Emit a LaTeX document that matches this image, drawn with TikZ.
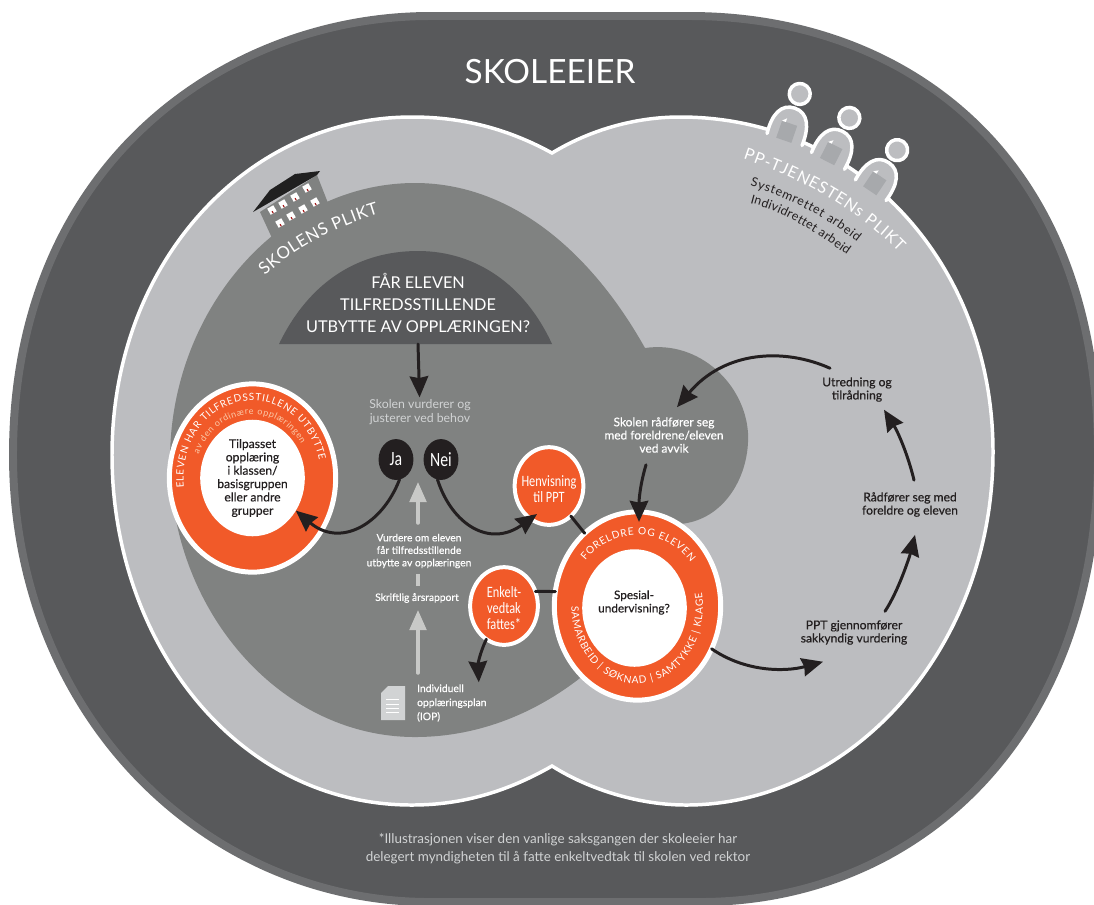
\documentclass[tikz,border=0pt]{standalone}
\usepackage{fontspec}
\setmainfont{Lato}
\newfontfamily\narrowfont[FakeStretch=0.78]{Carlito}
\newfontfamily\semifont[FakeBold=0.5]{Lato}
\usetikzlibrary{shapes.geometric,arrows.meta,decorations.text}
\definecolor{outerdark}{HTML}{58595B}
\definecolor{outerrim}{HTML}{6D6E70}
\definecolor{lobegray}{HTML}{BCBDC0}
\definecolor{staffgray}{HTML}{A7A9AC}
\definecolor{schoolgray}{HTML}{808281}
\definecolor{ringorange}{HTML}{F15A29}
\definecolor{inkblack}{HTML}{231F20}
\definecolor{palegray}{HTML}{D1D3D4}
\definecolor{arrowgray}{HTML}{C8C9C7}
\definecolor{paleorange}{HTML}{FBC9A8}
\def\pxu{0.5669pt}
\tikzset{
	ringnode/.style={ellipse,draw=white,fill=ringorange,line width=5*\pxu,inner sep=0pt,outer sep=0pt},
	smallring/.style={ringnode,line width=4*\pxu},
	corenode/.style={ellipse,fill=white,inner sep=0pt,outer sep=0pt,align=center,text=inkblack},
	choicenode/.style={ellipse,fill=inkblack,text=white,inner sep=0pt,outer sep=0pt,minimum width=35*\pxu,minimum height=41*\pxu,font=\narrowfont\fontsize{11.5}{13}\selectfont},
	ringlabel/.style={align=center,text=white,inner sep=0pt,font=\narrowfont\fontsize{9}{9}\selectfont},
	darklabel/.style={align=center,text=inkblack,inner sep=1pt,font=\semifont\fontsize{6.9}{7.5}\selectfont},
	lightlabel/.style={align=center,text=white,inner sep=1pt,font=\semifont\fontsize{5.85}{7.1}\selectfont},
	palelabel/.style={align=center,text=palegray,inner sep=1pt,font=\fontsize{7}{7.8}\selectfont},
	blackarrow/.style={draw=inkblack,line width=3*\pxu,-{Stealth[length=12pt,width=10.5pt,inset=1pt]}},
	grayarrow/.style={draw=arrowgray,line width=3.5*\pxu,-{Triangle[length=11.5pt,width=9.5pt]}},
	bentext/.style n args={2}{decorate,decoration={text along path,text format delimiters={<}{>},text align={fit to path},text={<#1>#2}}}
}
\begin{document}
\begin{tikzpicture}[x=0.02cm,y=-0.02cm,>=stealth,line join=round,line cap=round]
	\useasboundingbox (0,0) rectangle (1094,904);
	\clip (0,0) rectangle (1094,904);
	% skoleeier
	\draw[fill=outerdark,draw=outerrim,line width=8*\pxu] (430,16) .. controls (230,16) and (13,160) .. (13,455)
		.. controls (13,715) and (205,902) .. (430,902) -- (700,902)
		.. controls (915,902) and (1098,740) .. (1098,455)
		.. controls (1098,150) and (900,16) .. (690,16) -- cycle;
	% the two lobes
	\draw[fill=lobegray,draw=white,line width=3.5*\pxu,line join=miter] (552,153) .. controls (590,130) and (635,117) .. (680,117)
		.. controls (860,117) and (993,265) .. (993,452)
		.. controls (993,650) and (850,805) .. (686,805)
		.. controls (640,805) and (590,790) .. (552,766)
		.. controls (510,790) and (465,805) .. (412,805)
		.. controls (235,805) and (112,640) .. (112,455)
		.. controls (112,265) and (245,117) .. (412,117)
		.. controls (465,117) and (510,130) .. (552,153) -- cycle;
	% pp staff
	\foreach \bx/\by/\tilt in {788/128/-19,833/150/-27,877/180/-34}{
		\begin{scope}[shift={(\bx,\by)},rotate=\tilt]
			\draw[fill=lobegray,draw=white,line width=3.5*\pxu] (-18,12) .. controls (-20,-8) and (-14,-21) .. (0,-21) .. controls (14,-21) and (20,-8) .. (19,12);
			\draw[fill=lobegray,draw=white,line width=3.5*\pxu] (0,-36) circle (10.5);
			\fill[staffgray] (-8,-5) rectangle (8,13);
			\fill[white] (-8,-5)--(-4,-9)--(-4,-5)--cycle;
		\end{scope}
	}
	% school area
	\fill[schoolgray] (645,348) .. controls (590,250) and (510,183) .. (415,183)
		.. controls (280,183) and (170,310) .. (170,460)
		.. controls (170,610) and (280,737) .. (415,737)
		.. controls (480,737) and (540,712) .. (590,670)
		-- (650,560) -- (680,524)
		.. controls (725,520) and (750,475) .. (748,433)
		.. controls (745,385) and (700,340) .. (645,348) -- cycle;
	% building
	\fill[schoolgray] (260,212)--(272,238)--(328,203)--(317,175)--cycle;
	\fill[black!75!schoolgray] (253,212)--(270,190)--(295,174)--(320,171)--(317,175)--(260,208)--cycle;
	\foreach \wx/\wy in {272/210,283/204,295/197,307/188,280/223,291/216,303/209,315/202}{
		\begin{scope}[shift={(\wx,\wy)},rotate=30]
			\fill[white] (-3.5,-3.5) rectangle (3.5,3.5);
			\fill[red!60!black] (-1,1) rectangle (0,3.5);
		\end{scope}
	}
	\path[bentext={\fontsize{9.6}{9}\selectfont\color{white}}{SKOLENS PLIKT}] (265,276) .. controls (295,248) and (335,227) .. (379,214);
	\path[bentext={\fontsize{9.2}{9}\selectfont\color{white}}{PP-TJENESTENs PLIKT}] (743,159) .. controls (800,178) and (855,208) .. (899,252);
	\path[bentext={\fontsize{7.1}{8}\selectfont\color{inkblack}}{Systemrettet arbeid}] (750,186) .. controls (785,196) and (825,216) .. (857,242);
	\path[bentext={\fontsize{7.1}{8}\selectfont\color{inkblack}}{Individrettet arbeid}] (750,203) .. controls (785,212) and (815,232) .. (847,255);
	% headline
	\node[text=white,inner sep=0pt,font=\fontsize{19}{22}\selectfont] (skoleeier) at (550,72) {SKOLEEIER};
	\fill[outerdark] (279,344) .. controls (310,280) and (360,251) .. (418,251) .. controls (476,251) and (525,285) .. (552,344) -- cycle;
	\coordinate (dome) at (418,344);
	\node[text=white,align=center,inner sep=0pt,font=\fontsize{9.25}{12.5}\selectfont] (question) at (418,303) {FÅR ELEVEN\\TILFREDSSTILLENDE\\UTBYTTE AV OPPLÆRINGEN?};
	\node[palelabel] (vurderer) at (420,412) {Skolen vurderer og\\justerer ved behov};
	\node[choicenode] (ja) at (396,459.5) {Ja};
	\node[choicenode] (nei) at (441,459.5) {Nei};
	% left ring
	\node[ringnode,minimum width=167*\pxu,minimum height=189*\pxu] (fornoyd) at (252.5,478) {};
	\node[corenode,minimum width=105*\pxu,minimum height=117*\pxu,font=\semifont\fontsize{6.9}{7.6}\selectfont] (tilpasset) at (252.5,478) {Tilpasset\\opplæring\\i klassen/\\basisgruppen\\eller andre\\grupper};
	\path[bentext={\fontsize{5.7}{6}\selectfont\color{white}}{ELEVEN HAR TILFREDSSTILLENE UTBYTTE}] ({252.5+69*cos(187)},{478-78*sin(187)}) arc[start angle=187,end angle=13,x radius=69*\pxu,y radius=78*\pxu];
	\path[bentext={\fontsize{5.1}{5}\selectfont\color{paleorange}}{av den ordinære opplæringen}] ({252.5+58*cos(158)},{478-64*sin(158)}) arc[start angle=158,end angle=32,x radius=58*\pxu,y radius=64*\pxu];
	% right ring
	\node[ringnode,minimum width=167*\pxu,minimum height=189*\pxu] (foreldre) at (637.5,606) {};
	\node[corenode,minimum width=105*\pxu,minimum height=118*\pxu] (spesial) at (634.5,608) {};
	\node[text=inkblack,align=center,inner sep=0pt,font=\semifont\fontsize{6.7}{7.6}\selectfont] (spesialtext) at (634,602.5) {Spesial-\\undervisning?};
	\path[bentext={\fontsize{5.8}{6}\selectfont\color{white}}{FORELDRE OG ELEVEN}] ({637.5+68*cos(140)},{606-71*sin(140)}) arc[start angle=140,end angle=38,x radius=68*\pxu,y radius=71*\pxu];
	\path[bentext={\fontsize{5.8}{6}\selectfont\color{white}}{SAMARBEID | SØKNAD | SAMTYKKE | KLAGE}] ({637.5+66*cos(180)},{606-78*sin(180)}) arc[start angle=180,end angle=370,x radius=66*\pxu,y radius=78*\pxu];
	% small rings
	\node[smallring,minimum width=69*\pxu,minimum height=78*\pxu] (henvisning) at (549,486) {};
	\node[ringlabel] (henvtext) at (549,489.5) {Henvisning\\til PPT};
	\node[smallring,minimum width=68*\pxu,minimum height=78*\pxu] (enkelt) at (504,606) {};
	\node[ringlabel] (enkelttext) at (504,608) {Enkelt-\\vedtak\\fattes*};
	% texts in the school area
	\node[lightlabel] (vurdere) at (419,551) {Vurdere om eleven\\får tilfredsstillende\\utbytte av opplæringen};
	\node[lightlabel] (skriftlig) at (417,598) {Skriftlig årsrapport};
	\node[lightlabel,anchor=west,align=left,font=\semifont\fontsize{5.9}{8}\selectfont] (iop) at (415,703) {Individuell\\opplæringsplan\\(IOP)};
	\coordinate (nottip) at (418,482);
	\coordinate (iopfoot) at (418,673);
	\coordinate (skriftfoot) at (418,610);
	\coordinate (stubtop) at (418,574);
	\coordinate (stubfoot) at (418,586);
	\coordinate (notfoot) at (418,523);
	\coordinate (henvtip) at (537,514);
	% document
	\fill[palegray] (381,693)--(388,686)--(405,686)--(405,720)--(381,720)--cycle;
	\foreach \ly in {699,704,708,712}{
		\draw[white,line width=1*\pxu,line cap=butt] (386,\ly)--(399,\ly);
	}
	% texts in the lobe
	\node[lightlabel,font=\semifont\fontsize{6.8}{7.5}\selectfont] (radforer) at (664,435) {Skolen rådfører seg\\med foreldrene/eleven\\ved avvik};
	\node[darklabel] (utredning) at (857,389.5) {Utredning og\\tilrådning};
	\node[darklabel] (foreldreradd) at (910,504.5) {Rådfører seg med\\foreldre og eleven};
	\node[darklabel] (ppt) at (854,632.5) {PPT gjennomfører\\sakkyndig vurdering};
	\node[palelabel,font=\fontsize{7.65}{10.3}\selectfont] (footnote) at (558,848.5) {*Illustrasjonen viser den vanlige saksgangen der skoleeier har\\delegert myndigheten til å fatte enkeltvedtak til skolen ved rektor};
	% connectors
	\draw[grayarrow] (notfoot) -- (nottip);
	\draw[draw=arrowgray,line width=3.5*\pxu,line cap=butt] (stubfoot) -- (stubtop);
	\draw[grayarrow] (iopfoot) -- (skriftfoot);
	\draw[blackarrow] (dome) -- (vurderer);
	\draw[blackarrow] (ja.-80) .. controls (382,525) and (340,548) .. (tilpasset.-37);
	\draw[blackarrow] (nei.-100) .. controls (452,525) and (490,548) .. (henvtip);
	\draw[draw=inkblack,line width=3*\pxu] (henvisning.-54) -- (foreldre.126);
	\draw[draw=inkblack,line width=3*\pxu] (enkelt.25) -- (foreldre.170);
	\draw[blackarrow] (enkelt.-118) .. controls (479,655) and (478,665) .. ([shift={(27,0)}]iop.north);
	\draw[blackarrow] (foreldre.-30) .. controls (745,672) and (785,672) .. ([shift={(-31,15)}]ppt.south);
	\draw[blackarrow] ([shift={(31,-7)}]ppt.north) .. controls (899,590) and (910,555) .. ([shift={(5,16)}]foreldreradd.south);
	\draw[blackarrow] ([shift={(4,-10)}]foreldreradd.north) .. controls (908,455) and (898,432) .. ([shift={(27,6)}]utredning.south);
	\draw[blackarrow] ([shift={(-27,-7)}]utredning.north) .. controls (785,348) and (725,350) .. ([shift={(13,-8)}]radforer.north);
	\draw[blackarrow] ([shift={(-18,10)}]radforer.south) .. controls (640,485) and (639,500) .. ([shift={(1.5,10)}]foreldre.north);
\end{tikzpicture}
\end{document}
